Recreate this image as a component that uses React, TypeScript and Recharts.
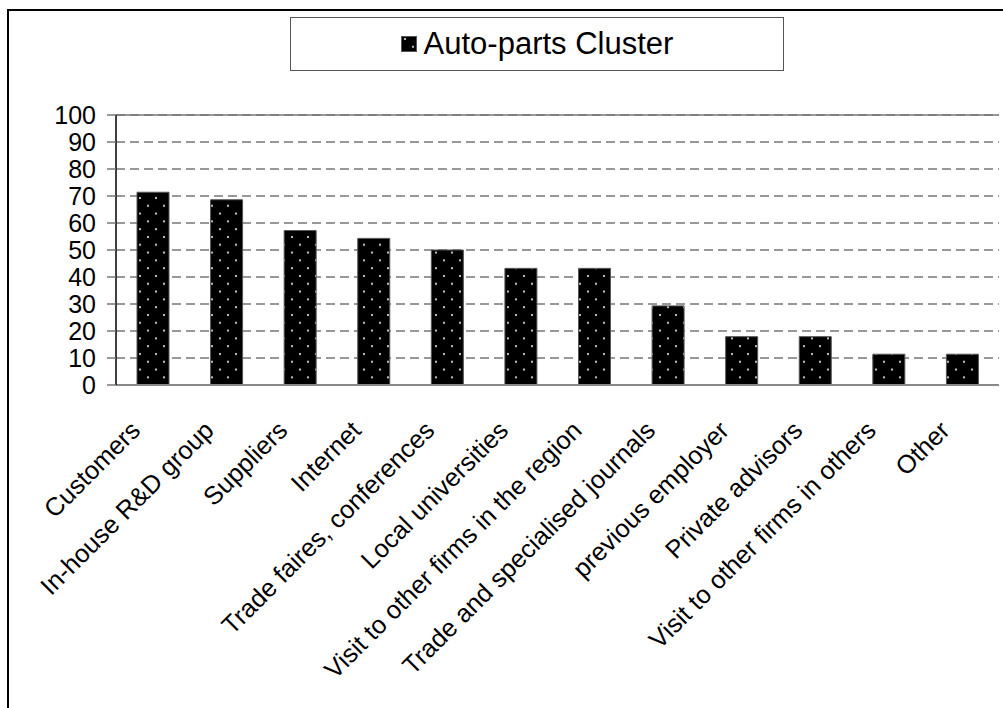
import {
  BarChart,
  Bar,
  XAxis,
  YAxis,
  CartesianGrid,
  Legend,
  ReferenceLine,
} from "recharts";

const categories = [
  "Customers",
  "In-house R&D group",
  "Suppliers",
  "Internet",
  "Trade faires, conferences",
  "Local universities",
  "Visit to other firms in the region",
  "Trade and specialised journals",
  "previous employer",
  "Private advisors",
  "Visit to other firms in others",
  "Other",
];

const autoParts = [71.4, 68.6, 57.2, 54.3, 50, 43.2, 43.2, 29.3, 17.9, 17.9, 11.4, 11.4];

const yTicks = [0, 10, 20, 30, 40, 50, 60, 70, 80, 90, 100];

const SERIES_NAME = "Auto-parts Cluster";
const FONT = "'Liberation Sans', Arial, Helvetica, sans-serif";

const data = categories.map((name, i) => ({ name, value: autoParts[i] }));

const CategoryTick = (props: any) => {
  const { x, y, payload } = props;
  return (
    <g transform={`translate(${x - 11},${y + 45})`}>
      <text
        transform="rotate(-45)"
        textAnchor="end"
        fontSize={25.5}
        fontFamily={FONT}
        fill="#000"
      >
        {payload.value}
      </text>
    </g>
  );
};

const LegendBox = () => (
  <div
    style={{
      boxSizing: "border-box",
      width: "100%",
      height: "100%",
      border: "1.5px solid #555",
      background: "#fff",
      display: "flex",
      alignItems: "center",
      justifyContent: "center",
      fontFamily: FONT,
      fontSize: 31,
      color: "#000",
    }}
  >
    <svg width={16} height={16} style={{ marginRight: 7 }}>
      <rect x={0.5} y={0.5} width={15} height={15} fill="url(#dotFill)" stroke="#555" />
    </svg>
    <span>{SERIES_NAME}</span>
  </div>
);

export default function App() {
  return (
    <div
      style={{
        position: "absolute",
        left: 0,
        top: 0,
        width: 1003,
        height: 708,
        overflow: "hidden",
        background: "#fff",
      }}
    >
      {/* pattern shared by bars and legend swatch */}
      <svg width={0} height={0} style={{ position: "absolute" }}>
        <defs>
          <pattern id="dotFill" width={16} height={15.6} patternUnits="userSpaceOnUse">
            <rect width={16} height={15.6} fill="#000" />
            <circle cx={4} cy={3} r={1.1} fill="#e6e6e6" />
            <circle cx={12} cy={10.8} r={1.1} fill="#e6e6e6" />
          </pattern>
        </defs>
      </svg>

      {/* outer frame, runs past the right and bottom edges */}
      <div
        style={{
          position: "absolute",
          left: 7,
          top: 9,
          width: 1100,
          height: 800,
          borderLeft: "2px solid #000",
          borderTop: "2px solid #000",
        }}
      />

      <div style={{ position: "absolute", left: 0, top: 0 }}>
        <BarChart
          width={1003}
          height={708}
          data={data}
          margin={{ top: 115, right: 4, left: 0, bottom: 123 }}
        >
          <CartesianGrid
            vertical={false}
            stroke="#777"
            strokeWidth={1.3}
            strokeDasharray="9 5"
          />
          <ReferenceLine y={100} stroke="#777" strokeWidth={1.5} />
          <XAxis
            dataKey="name"
            interval={0}
            height={200}
            tickLine={false}
            tickSize={0}
            tick={<CategoryTick />}
            axisLine={{ stroke: "#888", strokeWidth: 2 }}
          />
          <YAxis
            domain={[0, 100]}
            ticks={yTicks}
            interval={0}
            width={116}
            tickSize={9}
            tickMargin={11}
            tickLine={{ stroke: "#777", strokeWidth: 1.5 }}
            axisLine={{ stroke: "#000", strokeWidth: 1.5 }}
            tick={{ fill: "#000", fontSize: 25, fontFamily: FONT }}
          />
          <YAxis
            yAxisId="right"
            orientation="right"
            domain={[0, 100]}
            width={0}
            tick={false}
            tickLine={false}
            axisLine={{ stroke: "#777", strokeWidth: 1.5 }}
          />
          <Legend
            layout="horizontal"
            verticalAlign="middle"
            align="center"
            content={<LegendBox />}
            wrapperStyle={{ top: 17, left: 290, width: 494, height: 54 }}
          />
          <Bar
            dataKey="value"
            name={SERIES_NAME}
            fill="url(#dotFill)"
            stroke="#555"
            strokeWidth={1}
            barSize={32}
            isAnimationActive={false}
          />
        </BarChart>
      </div>
    </div>
  );
}
